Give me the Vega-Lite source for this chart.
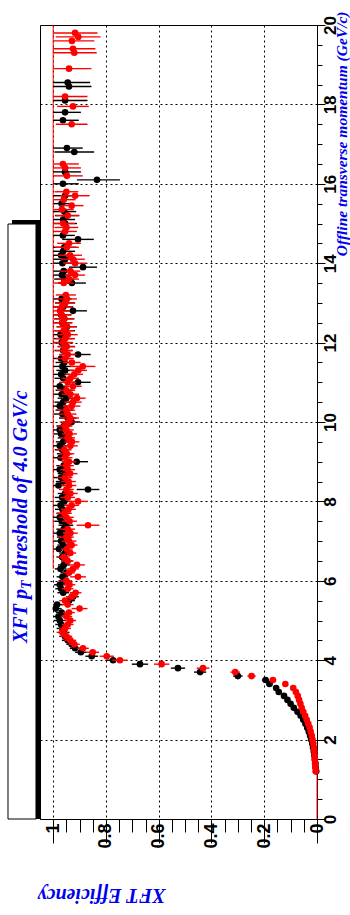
{
"$schema": "https://vega.github.io/schema/vega-lite/v6.json",
"width": 277, "height": 794,
"autosize": "none",
"padding": {"left": 40, "top": 25, "right": 33, "bottom": 96},
"background": "white",
"config": {"view": {"stroke": "black", "strokeWidth": 1, "fill": "white"}},
"datasets": {
"k": [
{"p":1.2,"e":0.003,"l":0.001,"h":0.005},{"p":1.3,"e":0.005,"l":0.003,"h":0.007},{"p":1.4,"e":0.006,"l":0.004,"h":0.008},{"p":1.5,"e":0.008,"l":0.006,"h":0.010},{"p":1.6,"e":0.010,"l":0.008,"h":0.012},{"p":1.7,"e":0.012,"l":0.010,"h":0.014},{"p":1.8,"e":0.015,"l":0.012,"h":0.018},{"p":1.9,"e":0.018,"l":0.015,"h":0.021},{"p":2.0,"e":0.022,"l":0.019,"h":0.025},{"p":2.1,"e":0.026,"l":0.023,"h":0.029},{"p":2.2,"e":0.031,"l":0.027,"h":0.035},{"p":2.3,"e":0.037,"l":0.033,"h":0.041},{"p":2.4,"e":0.044,"l":0.040,"h":0.048},{"p":2.5,"e":0.052,"l":0.047,"h":0.057},{"p":2.6,"e":0.062,"l":0.057,"h":0.067},{"p":2.7,"e":0.074,"l":0.068,"h":0.080},{"p":2.8,"e":0.088,"l":0.082,"h":0.094},{"p":2.9,"e":0.100,"l":0.093,"h":0.107},{"p":3.0,"e":0.112,"l":0.104,"h":0.120},{"p":3.1,"e":0.125,"l":0.116,"h":0.134},{"p":3.2,"e":0.145,"l":0.135,"h":0.155},{"p":3.3,"e":0.155,"l":0.144,"h":0.166},{"p":3.4,"e":0.180,"l":0.168,"h":0.192},{"p":3.5,"e":0.195,"l":0.181,"h":0.209},{"p":3.6,"e":0.300,"l":0.282,"h":0.318},{"p":3.7,"e":0.443,"l":0.420,"h":0.466},{"p":3.8,"e":0.527,"l":0.500,"h":0.554},{"p":3.9,"e":0.671,"l":0.640,"h":0.702},{"p":4.0,"e":0.773,"l":0.745,"h":0.801},{"p":4.1,"e":0.854,"l":0.830,"h":0.878},{"p":4.2,"e":0.895,"l":0.873,"h":0.917},{"p":4.3,"e":0.917,"l":0.897,"h":0.937},{"p":4.4,"e":0.930,"l":0.910,"h":0.950},
{"p":4.5,"e":0.945,"l":0.923,"h":0.967},{"p":4.6,"e":0.955,"l":0.933,"h":0.977},{"p":4.7,"e":0.960,"l":0.938,"h":0.982},{"p":4.8,"e":0.965,"l":0.943,"h":0.987},{"p":4.9,"e":0.970,"l":0.948,"h":0.992},{"p":5.0,"e":0.975,"l":0.953,"h":0.997},{"p":5.1,"e":0.980,"l":0.958,"h":1.0},{"p":5.2,"e":0.968,"l":0.946,"h":0.990},{"p":5.3,"e":0.990,"l":0.968,"h":1.0},{"p":5.4,"e":0.985,"l":0.963,"h":1.0},{"p":5.5,"e":0.940,"l":0.918,"h":0.962},{"p":5.6,"e":0.925,"l":0.903,"h":0.947},{"p":5.7,"e":0.962,"l":0.940,"h":0.984},{"p":5.8,"e":0.970,"l":0.948,"h":0.992},{"p":5.9,"e":0.975,"l":0.953,"h":0.997},{"p":6.0,"e":0.958,"l":0.936,"h":0.980},{"p":6.1,"e":0.965,"l":0.943,"h":0.987},{"p":6.2,"e":0.950,"l":0.928,"h":0.972},{"p":6.3,"e":0.972,"l":0.950,"h":0.994},{"p":6.4,"e":0.960,"l":0.938,"h":0.982},{"p":6.5,"e":0.948,"l":0.926,"h":0.970},{"p":6.6,"e":0.966,"l":0.944,"h":0.988},{"p":6.7,"e":0.955,"l":0.933,"h":0.977},{"p":6.8,"e":0.978,"l":0.956,"h":1.0},{"p":6.9,"e":0.962,"l":0.940,"h":0.984},
{"p":7.0,"e":0.970,"l":0.942,"h":0.998},{"p":7.1,"e":0.958,"l":0.930,"h":0.986},{"p":7.2,"e":0.975,"l":0.947,"h":1.0},{"p":7.3,"e":0.960,"l":0.932,"h":0.988},{"p":7.4,"e":0.952,"l":0.924,"h":0.980},{"p":7.5,"e":0.968,"l":0.940,"h":0.996},{"p":7.6,"e":0.975,"l":0.947,"h":1.0},{"p":7.7,"e":0.960,"l":0.932,"h":0.988},{"p":7.8,"e":0.965,"l":0.937,"h":0.993},{"p":7.9,"e":0.972,"l":0.944,"h":1.0},{"p":8.0,"e":0.958,"l":0.930,"h":0.986},{"p":8.1,"e":0.966,"l":0.938,"h":0.994},{"p":8.2,"e":0.955,"l":0.927,"h":0.983},{"p":8.3,"e":0.868,"l":0.825,"h":0.911},{"p":8.4,"e":0.980,"l":0.952,"h":1.0},{"p":8.5,"e":0.962,"l":0.934,"h":0.990},{"p":8.6,"e":0.970,"l":0.942,"h":0.998},{"p":8.7,"e":0.955,"l":0.927,"h":0.983},{"p":8.8,"e":0.975,"l":0.947,"h":1.0},{"p":8.9,"e":0.960,"l":0.932,"h":0.988},{"p":9.0,"e":0.911,"l":0.868,"h":0.954},{"p":9.1,"e":0.972,"l":0.944,"h":1.0},{"p":9.2,"e":0.958,"l":0.930,"h":0.986},{"p":9.3,"e":0.966,"l":0.938,"h":0.994},{"p":9.4,"e":0.975,"l":0.947,"h":1.0},{"p":9.5,"e":0.962,"l":0.934,"h":0.990},{"p":9.6,"e":0.955,"l":0.927,"h":0.983},{"p":9.7,"e":0.970,"l":0.942,"h":0.998},{"p":9.8,"e":0.975,"l":0.947,"h":1.0},{"p":9.9,"e":0.960,"l":0.932,"h":0.988},
{"p":10.0,"e":0.930,"l":0.897,"h":0.963},{"p":10.1,"e":0.945,"l":0.912,"h":0.978},{"p":10.2,"e":0.965,"l":0.932,"h":0.998},{"p":10.3,"e":0.958,"l":0.925,"h":0.991},{"p":10.4,"e":0.975,"l":0.942,"h":1.0},{"p":10.5,"e":0.962,"l":0.929,"h":0.995},{"p":10.6,"e":0.950,"l":0.917,"h":0.983},{"p":10.7,"e":0.968,"l":0.935,"h":1.0},{"p":10.8,"e":0.958,"l":0.925,"h":0.991},{"p":10.9,"e":0.975,"l":0.942,"h":1.0},{"p":11.0,"e":0.906,"l":0.858,"h":0.954},{"p":11.1,"e":0.962,"l":0.929,"h":0.995},{"p":11.2,"e":0.970,"l":0.937,"h":1.0},{"p":11.3,"e":0.955,"l":0.922,"h":0.988},{"p":11.4,"e":0.965,"l":0.932,"h":0.998},{"p":11.5,"e":0.958,"l":0.925,"h":0.991},{"p":11.6,"e":0.970,"l":0.937,"h":1.0},{"p":11.7,"e":0.906,"l":0.858,"h":0.954},{"p":11.8,"e":0.962,"l":0.929,"h":0.995},{"p":11.9,"e":0.950,"l":0.917,"h":0.983},
{"p":12.0,"e":0.968,"l":0.930,"h":1.0},{"p":12.1,"e":0.960,"l":0.922,"h":0.998},{"p":12.2,"e":0.972,"l":0.934,"h":1.0},{"p":12.3,"e":0.955,"l":0.917,"h":0.993},{"p":12.4,"e":0.948,"l":0.910,"h":0.986},{"p":12.5,"e":0.966,"l":0.928,"h":1.0},{"p":12.6,"e":0.958,"l":0.920,"h":0.996},{"p":12.7,"e":0.970,"l":0.932,"h":1.0},{"p":12.8,"e":0.925,"l":0.872,"h":0.978},{"p":12.9,"e":0.962,"l":0.924,"h":1.0},{"p":13.0,"e":0.955,"l":0.917,"h":0.993},{"p":13.1,"e":0.968,"l":0.930,"h":1.0},{"p":13.5,"e":0.929,"l":0.876,"h":0.982},{"p":13.6,"e":0.958,"l":0.920,"h":0.996},{"p":13.7,"e":0.967,"l":0.929,"h":1.0},{"p":13.8,"e":0.960,"l":0.922,"h":0.998},{"p":13.9,"e":0.887,"l":0.834,"h":0.940},
{"p":14.0,"e":0.965,"l":0.920,"h":1.0},{"p":14.1,"e":0.955,"l":0.910,"h":1.0},{"p":14.2,"e":0.970,"l":0.925,"h":1.0},{"p":14.3,"e":0.962,"l":0.917,"h":1.0},{"p":14.4,"e":0.958,"l":0.913,"h":1.0},{"p":14.6,"e":0.906,"l":0.846,"h":0.966},{"p":14.7,"e":0.963,"l":0.918,"h":1.0},{"p":15.0,"e":0.955,"l":0.910,"h":1.0},{"p":15.1,"e":0.962,"l":0.917,"h":1.0},{"p":15.2,"e":0.948,"l":0.903,"h":0.993},{"p":15.3,"e":0.958,"l":0.913,"h":1.0},{"p":15.5,"e":0.968,"l":0.923,"h":1.0},{"p":15.7,"e":0.955,"l":0.910,"h":1.0},
{"p":16.0,"e":0.963,"l":0.903,"h":1.0},{"p":16.1,"e":0.834,"l":0.747,"h":0.910},{"p":16.3,"e":0.955,"l":0.895,"h":1.0},{"p":16.8,"e":0.920,"l":0.845,"h":0.995},{"p":16.9,"e":0.948,"l":0.888,"h":1.0},{"p":17.6,"e":0.963,"l":0.903,"h":1.0},{"p":17.8,"e":0.955,"l":0.895,"h":1.0},{"p":18.1,"e":0.955,"l":0.870,"h":1.0},{"p":18.45,"e":0.940,"l":0.855,"h":1.0},{"p":18.55,"e":0.945,"l":0.860,"h":1.0}
],
"r": [
{"p":1.2,"e":0.005,"l":0.003,"h":0.007},{"p":1.3,"e":0.006,"l":0.004,"h":0.008},{"p":1.4,"e":0.007,"l":0.005,"h":0.009},{"p":1.5,"e":0.008,"l":0.006,"h":0.010},{"p":1.6,"e":0.009,"l":0.007,"h":0.011},{"p":1.7,"e":0.010,"l":0.008,"h":0.012},{"p":1.8,"e":0.012,"l":0.010,"h":0.014},{"p":1.9,"e":0.014,"l":0.012,"h":0.016},{"p":2.0,"e":0.017,"l":0.015,"h":0.019},{"p":2.1,"e":0.020,"l":0.017,"h":0.023},{"p":2.2,"e":0.024,"l":0.021,"h":0.027},{"p":2.3,"e":0.028,"l":0.025,"h":0.031},{"p":2.4,"e":0.033,"l":0.030,"h":0.036},{"p":2.5,"e":0.039,"l":0.035,"h":0.043},{"p":2.6,"e":0.045,"l":0.041,"h":0.049},{"p":2.7,"e":0.052,"l":0.047,"h":0.057},{"p":2.8,"e":0.058,"l":0.053,"h":0.063},{"p":2.9,"e":0.063,"l":0.058,"h":0.068},{"p":3.0,"e":0.068,"l":0.062,"h":0.074},{"p":3.1,"e":0.073,"l":0.067,"h":0.079},{"p":3.2,"e":0.080,"l":0.073,"h":0.087},{"p":3.3,"e":0.090,"l":0.082,"h":0.098},{"p":3.4,"e":0.120,"l":0.110,"h":0.130},{"p":3.5,"e":0.167,"l":0.155,"h":0.179},{"p":3.6,"e":0.248,"l":0.232,"h":0.264},{"p":3.7,"e":0.310,"l":0.292,"h":0.328},{"p":3.8,"e":0.432,"l":0.408,"h":0.456},{"p":3.9,"e":0.589,"l":0.560,"h":0.618},{"p":4.0,"e":0.747,"l":0.718,"h":0.776},{"p":4.1,"e":0.797,"l":0.770,"h":0.824},{"p":4.2,"e":0.850,"l":0.826,"h":0.874},{"p":4.3,"e":0.887,"l":0.865,"h":0.909},{"p":4.4,"e":0.920,"l":0.899,"h":0.941},
{"p":4.5,"e":0.935,"l":0.913,"h":0.957},{"p":4.6,"e":0.950,"l":0.928,"h":0.972},{"p":4.7,"e":0.965,"l":0.943,"h":0.987},{"p":4.8,"e":0.955,"l":0.933,"h":0.977},{"p":4.9,"e":0.945,"l":0.923,"h":0.967},{"p":5.0,"e":0.935,"l":0.913,"h":0.957},{"p":5.1,"e":0.950,"l":0.928,"h":0.972},{"p":5.2,"e":0.940,"l":0.918,"h":0.962},{"p":5.3,"e":0.900,"l":0.870,"h":0.930},{"p":5.4,"e":0.945,"l":0.923,"h":0.967},{"p":5.5,"e":0.955,"l":0.933,"h":0.977},{"p":5.6,"e":0.930,"l":0.908,"h":0.952},{"p":5.7,"e":0.915,"l":0.893,"h":0.937},{"p":5.8,"e":0.945,"l":0.923,"h":0.967},{"p":5.9,"e":0.938,"l":0.916,"h":0.960},{"p":6.0,"e":0.950,"l":0.928,"h":0.972},{"p":6.1,"e":0.906,"l":0.876,"h":0.936},{"p":6.2,"e":0.940,"l":0.918,"h":0.962},{"p":6.3,"e":0.925,"l":0.903,"h":0.947},{"p":6.4,"e":0.910,"l":0.880,"h":0.940},{"p":6.5,"e":0.945,"l":0.923,"h":0.967},{"p":6.6,"e":0.960,"l":0.938,"h":0.982},{"p":6.7,"e":0.935,"l":0.913,"h":0.957},{"p":6.8,"e":0.948,"l":0.926,"h":0.970},{"p":6.9,"e":0.930,"l":0.908,"h":0.952},
{"p":7.0,"e":0.940,"l":0.912,"h":0.968},{"p":7.1,"e":0.950,"l":0.922,"h":0.978},{"p":7.2,"e":0.935,"l":0.907,"h":0.963},{"p":7.3,"e":0.945,"l":0.917,"h":0.973},{"p":7.4,"e":0.868,"l":0.825,"h":0.911},{"p":7.5,"e":0.938,"l":0.910,"h":0.966},{"p":7.6,"e":0.950,"l":0.922,"h":0.978},{"p":7.7,"e":0.958,"l":0.930,"h":0.986},{"p":7.8,"e":0.942,"l":0.914,"h":0.970},{"p":7.9,"e":0.930,"l":0.902,"h":0.958},{"p":8.0,"e":0.906,"l":0.868,"h":0.944},{"p":8.1,"e":0.945,"l":0.917,"h":0.973},{"p":8.2,"e":0.935,"l":0.907,"h":0.963},{"p":8.3,"e":0.950,"l":0.922,"h":0.978},{"p":8.4,"e":0.940,"l":0.912,"h":0.968},{"p":8.5,"e":0.942,"l":0.914,"h":0.970},{"p":8.6,"e":0.955,"l":0.927,"h":0.983},{"p":8.7,"e":0.936,"l":0.908,"h":0.964},{"p":8.8,"e":0.945,"l":0.917,"h":0.973},{"p":8.9,"e":0.950,"l":0.922,"h":0.978},{"p":9.0,"e":0.940,"l":0.912,"h":0.968},{"p":9.1,"e":0.955,"l":0.927,"h":0.983},{"p":9.2,"e":0.948,"l":0.920,"h":0.976},{"p":9.3,"e":0.958,"l":0.930,"h":0.986},{"p":9.4,"e":0.935,"l":0.907,"h":0.963},{"p":9.5,"e":0.929,"l":0.901,"h":0.957},{"p":9.6,"e":0.945,"l":0.917,"h":0.973},{"p":9.7,"e":0.938,"l":0.910,"h":0.966},{"p":9.8,"e":0.950,"l":0.922,"h":0.978},{"p":9.9,"e":0.955,"l":0.927,"h":0.983},
{"p":10.0,"e":0.942,"l":0.909,"h":0.975},{"p":10.1,"e":0.935,"l":0.902,"h":0.968},{"p":10.2,"e":0.945,"l":0.912,"h":0.978},{"p":10.3,"e":0.950,"l":0.917,"h":0.983},{"p":10.4,"e":0.930,"l":0.897,"h":0.963},{"p":10.5,"e":0.925,"l":0.892,"h":0.958},{"p":10.6,"e":0.910,"l":0.877,"h":0.943},{"p":10.7,"e":0.935,"l":0.902,"h":0.968},{"p":10.8,"e":0.950,"l":0.917,"h":0.983},{"p":10.9,"e":0.925,"l":0.892,"h":0.958},{"p":11.0,"e":0.945,"l":0.912,"h":0.978},{"p":11.1,"e":0.935,"l":0.902,"h":0.968},{"p":11.2,"e":0.920,"l":0.887,"h":0.953},{"p":11.3,"e":0.905,"l":0.872,"h":0.938},{"p":11.4,"e":0.888,"l":0.840,"h":0.936},{"p":11.5,"e":0.929,"l":0.896,"h":0.962},{"p":11.6,"e":0.955,"l":0.922,"h":0.988},{"p":11.7,"e":0.945,"l":0.912,"h":0.978},{"p":11.8,"e":0.958,"l":0.925,"h":0.991},{"p":11.9,"e":0.950,"l":0.917,"h":0.983},
{"p":12.0,"e":0.962,"l":0.924,"h":1.0},{"p":12.1,"e":0.955,"l":0.917,"h":0.993},{"p":12.2,"e":0.945,"l":0.907,"h":0.983},{"p":12.3,"e":0.960,"l":0.922,"h":0.998},{"p":12.4,"e":0.950,"l":0.912,"h":0.988},{"p":12.5,"e":0.965,"l":0.927,"h":1.0},{"p":12.6,"e":0.958,"l":0.920,"h":0.996},{"p":12.7,"e":0.968,"l":0.930,"h":1.0},{"p":12.8,"e":0.974,"l":0.936,"h":1.0},{"p":12.9,"e":0.967,"l":0.929,"h":1.0},{"p":13.0,"e":0.955,"l":0.917,"h":0.993},{"p":13.1,"e":0.948,"l":0.910,"h":0.986},{"p":13.2,"e":0.952,"l":0.914,"h":0.990},{"p":13.5,"e":0.960,"l":0.922,"h":0.998},{"p":13.6,"e":0.940,"l":0.902,"h":0.978},{"p":13.7,"e":0.917,"l":0.879,"h":0.955},{"p":13.8,"e":0.935,"l":0.897,"h":0.973},
{"p":14.0,"e":0.917,"l":0.872,"h":0.962},{"p":14.1,"e":0.925,"l":0.880,"h":0.970},{"p":14.2,"e":0.936,"l":0.891,"h":0.981},{"p":14.4,"e":0.948,"l":0.903,"h":0.993},{"p":14.5,"e":0.940,"l":0.895,"h":0.985},{"p":14.8,"e":0.955,"l":0.910,"h":1.0},{"p":14.9,"e":0.950,"l":0.905,"h":0.995},{"p":15.0,"e":0.962,"l":0.917,"h":1.0},{"p":15.2,"e":0.945,"l":0.900,"h":0.990},{"p":15.35,"e":0.967,"l":0.922,"h":1.0},{"p":15.45,"e":0.930,"l":0.885,"h":0.975},{"p":15.6,"e":0.960,"l":0.915,"h":1.0},{"p":15.7,"e":0.917,"l":0.862,"h":0.972},{"p":15.8,"e":0.950,"l":0.905,"h":0.995},
{"p":16.2,"e":0.948,"l":0.888,"h":1.0},{"p":16.4,"e":0.955,"l":0.895,"h":1.0},{"p":16.5,"e":0.963,"l":0.903,"h":1.0},{"p":17.5,"e":0.930,"l":0.870,"h":0.990},{"p":17.95,"e":0.925,"l":0.865,"h":0.985},{"p":18.2,"e":0.955,"l":0.870,"h":1.0},{"p":18.9,"e":0.940,"l":0.855,"h":1.0},{"p":19.3,"e":0.920,"l":0.835,"h":1.0},{"p":19.4,"e":0.925,"l":0.840,"h":1.0},{"p":19.6,"e":0.929,"l":0.844,"h":1.0},{"p":19.7,"e":0.905,"l":0.820,"h":0.990},{"p":19.8,"e":0.917,"l":0.832,"h":1.0}
]
},
"encoding": {
  "x": {"type": "quantitative",
   "scale": {"domain": [0, 1.05], "reverse": true, "nice": false, "zero": false},
   "axis": {"orient": "bottom",
    "values": [0,0.05,0.1,0.15,0.2,0.25,0.3,0.35,0.4,0.45,0.5,0.55,0.6,0.65,0.7,0.75,0.8,0.85,0.9,0.95,1],
    "format": "~g",
    "labelExpr": "(round(datum.value*100) % 20 == 0) ? datum.label : ''",
    "labelAngle": 270, "labelAlign": "right", "labelBaseline": "middle",
    "labelFont": "Liberation Sans", "labelFontWeight": "bold", "labelFontSize": 18, "labelColor": "black",
    "labelPadding": -20, "labelOverlap": false, "labelFlush": false, "labelBound": false,
    "tickSize": {"condition": {"test": "round(datum.value*100) % 20 == 0", "value": 24}, "value": 13},
    "tickColor": "black", "tickWidth": 1,
    "domainColor": "black",
    "grid": true, "gridColor": "black", "gridDash": [2, 3], "gridWidth": 1,
    "gridOpacity": {"condition": {"test": "round(datum.value*100) % 20 == 0 && datum.value > 0", "value": 1}, "value": 0},
    "title": "XFT Efficiency", "titleFont": "Liberation Serif", "titleFontWeight": "bold", "titleFontStyle": "italic", "titleFontSize": 20, "titleColor": "#0000ee",
    "titleAngle": 180, "titleAlign": "left", "titleBaseline": "middle", "titleX": 125, "titleY": 75}},
  "y": {"type": "quantitative",
   "scale": {"domain": [0, 20], "nice": false, "zero": false},
   "axis": {"orient": "right",
    "values": [0,0.5,1,1.5,2,2.5,3,3.5,4,4.5,5,5.5,6,6.5,7,7.5,8,8.5,9,9.5,10,10.5,11,11.5,12,12.5,13,13.5,14,14.5,15,15.5,16,16.5,17,17.5,18,18.5,19,19.5,20],
    "format": "~g",
    "labelExpr": "(datum.value % 2 == 0) ? datum.label : ''",
    "labelAngle": 270, "labelAlign": "center", "labelBaseline": "top",
    "labelFont": "Liberation Sans", "labelFontWeight": "bold", "labelFontSize": 17, "labelColor": "black",
    "labelPadding": -3, "labelOverlap": false, "labelFlush": false, "labelBound": false,
    "tickSize": {"condition": {"test": "datum.value % 2 == 0", "value": 8}, "value": 5},
    "tickColor": "black", "tickWidth": 1,
    "domainColor": "black",
    "grid": true, "gridColor": "black", "gridDash": [2, 3], "gridWidth": 1,
    "gridOpacity": {"condition": {"test": "datum.value % 2 == 0 && datum.value > 0 && datum.value < 20", "value": 1}, "value": 0},
    "title": "Offline transverse momentum (GeV/c)", "titleFont": "Liberation Serif", "titleFontWeight": "bold", "titleFontStyle": "italic", "titleFontSize": 15.5, "titleColor": "#0000ee",
    "titleAngle": 270, "titleAlign": "right", "titleBaseline": "middle", "titleX": 24, "titleY": -14}}
},
"layer": [
{"data": {"values": [{}]}, "mark": {"type": "rect", "color": "black"},
 "encoding": {"x": {"datum": 1.1561}, "x2": {"datum": 1.05}, "y": {"datum": 0}, "y2": {"datum": 15.088}}},
{"data": {"values": [{}]}, "mark": {"type": "rect", "fill": "white", "stroke": "black", "strokeWidth": 1},
 "encoding": {"x": {"datum": 1.1713}, "x2": {"datum": 1.0652}, "y": {"datum": 0}, "y2": {"datum": 14.987}}},
{"data": {"values": [{}]}, "mark": {"type": "text", "text": "XFT p", "angle": 270, "align": "left", "baseline": "alphabetic", "font": "Liberation Serif", "fontSize": 20, "fontWeight": "bold", "fontStyle": "italic", "color": "#0000ee"},
 "encoding": {"x": {"datum": 1.0993}, "y": {"datum": 4.433}}},
{"data": {"values": [{}]}, "mark": {"type": "text", "text": "T", "angle": 270, "align": "left", "baseline": "alphabetic", "dx": 54, "dy": 4, "font": "Liberation Serif", "fontSize": 14, "fontWeight": "bold", "fontStyle": "italic", "color": "#0000ee"},
 "encoding": {"x": {"datum": 1.0993}, "y": {"datum": 4.433}}},
{"data": {"values": [{}]}, "mark": {"type": "text", "text": "threshold of 4.0 GeV/c", "angle": 270, "align": "left", "baseline": "alphabetic", "dx": 67, "font": "Liberation Serif", "fontSize": 20, "fontWeight": "bold", "fontStyle": "italic", "color": "#0000ee"},
 "encoding": {"x": {"datum": 1.0993}, "y": {"datum": 4.433}}},
{"data": {"values": [{}]}, "mark": {"type": "rule", "color": "red", "strokeWidth": 1},
 "encoding": {"x": {"datum": 1}, "y": {"datum": 6.3}, "y2": {"datum": 20}}},
{"data": {"values": [{}]}, "mark": {"type": "rule", "color": "red", "strokeWidth": 1},
 "encoding": {"x": {"datum": 0}, "y": {"datum": 0}, "y2": {"datum": 1.2}}},
{"data": {"name": "k"}, "mark": {"type": "rule", "color": "black", "strokeWidth": 1.4},
 "encoding": {"x": {"field": "l"}, "x2": {"field": "h"}, "y": {"field": "p"}}},
{"data": {"name": "k"}, "mark": {"type": "point", "shape": "circle", "filled": true, "size": 44, "color": "black", "opacity": 1},
 "encoding": {"x": {"field": "e"}, "y": {"field": "p"}}},
{"data": {"name": "r"}, "mark": {"type": "rule", "color": "#ff0000", "strokeWidth": 1.4},
 "encoding": {"x": {"field": "l"}, "x2": {"field": "h"}, "y": {"field": "p"}}},
{"data": {"name": "r"}, "mark": {"type": "point", "shape": "circle", "filled": true, "size": 44, "color": "#ff0000", "opacity": 1},
 "encoding": {"x": {"field": "e"}, "y": {"field": "p"}}}
]
}
